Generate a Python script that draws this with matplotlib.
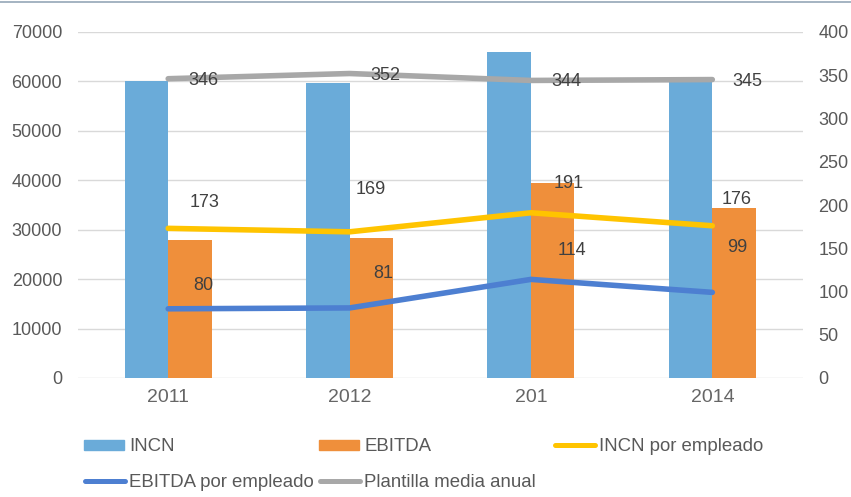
import matplotlib
matplotlib.use("Agg")
import matplotlib.pyplot as plt
import numpy as np
from matplotlib.lines import Line2D
from matplotlib.patches import Rectangle

plt.rcParams["font.family"] = ["Liberation Sans", "DejaVu Sans"]

# ---- data ----
years = ["2011", "2012", "201", "2014"]
incn = [60000, 59700, 65900, 60500]
ebitda = [27900, 28400, 39400, 34400]
incn_emp = [173, 169, 191, 176]
ebitda_emp = [80, 81, 114, 99]
plantilla = [346, 352, 344, 345]

# label offsets from each point, in pixels (dx right, dy up)
off_incn_emp = [(36, 26), (21, 42), (38, 29), (24, 26)]
off_ebitda_emp = [(35, 23), (34, 34), (41, 29), (25, 45)]
off_plantilla = [(35, -2), (36, -2), (35, -1), (35, -2)]

C_INCN = "#6AABD9"
C_EBITDA = "#EF8F3B"
C_YELLOW = "#FFC400"
C_BLUE = "#4D7FD1"
C_GRAY = "#A8A8A8"
GRID = "#D9D9D9"
TICK = "#595959"
LBL = "#404040"

W, H = 851, 497
fig = plt.figure(figsize=(W / 100, H / 100), dpi=100)
ax = fig.add_axes([77.5 / W, 1 - 378 / H, (803 - 77.5) / W, (378 - 32) / H])
ax2 = ax.twinx()

x = np.arange(len(years))
bw = 0.24
ax.bar(x - bw / 2, incn, bw, color=C_INCN, zorder=2)
ax.bar(x + bw / 2, ebitda, bw, color=C_EBITDA, zorder=2)

ax.set_xlim(-0.5, len(years) - 0.5)
ax.set_ylim(0, 70000)
ax.set_yticks(np.arange(0, 70001, 10000))
ax.yaxis.grid(True, color=GRID, lw=1, zorder=0)
ax.set_axisbelow(True)
ax.set_xticks(x)
ax.set_xticklabels(years)

ax2.set_ylim(0, 400)
ax2.set_yticks(np.arange(0, 401, 50))

for a in (ax, ax2):
    for s in a.spines.values():
        s.set_visible(False)
ax.tick_params(axis="y", length=0, pad=11, labelsize=13, labelcolor=TICK)
ax.tick_params(axis="x", length=0, pad=8, labelsize=14, labelcolor="#666666")
ax2.tick_params(axis="y", length=0, pad=11, labelsize=13, labelcolor=TICK)

lines = [
    (incn_emp, C_YELLOW, off_incn_emp),
    (ebitda_emp, C_BLUE, off_ebitda_emp),
    (plantilla, C_GRAY, off_plantilla),
]
for vals, col, offs in lines:
    ax2.plot(x, vals, color=col, lw=4, solid_capstyle="round",
             solid_joinstyle="round", zorder=3)
    for xi, v, (dx, dy) in zip(x, vals, offs):
        ax2.annotate(str(v), (xi, v), xytext=(dx * 0.72, dy * 0.72),
                     textcoords="offset points", ha="center", va="center",
                     fontsize=13, color=LBL, zorder=4)

# ---- legend drawn by hand (Excel style fixed columns) ----
leg_labels = ["INCN", "EBITDA", "INCN por empleado",
              "EBITDA por empleado", "Plantilla media anual"]
leg_colors = [C_INCN, C_EBITDA, C_YELLOW, C_BLUE, C_GRAY]
leg_kind = ["bar", "bar", "line", "line", "line"]
col_x = [84, 319, 554]
row_y = [445, 481]
for i, (lab, col, kind) in enumerate(zip(leg_labels, leg_colors, leg_kind)):
    cx = col_x[i % 3]
    cy = row_y[i // 3]
    if kind == "bar":
        fig.add_artist(Rectangle((cx / W, 1 - (cy + 5) / H), 40 / W, 10 / H,
                                 transform=fig.transFigure, color=col))
    else:
        fig.add_artist(Line2D([(cx + 1) / W, (cx + 41) / W], [1 - cy / H] * 2,
                              transform=fig.transFigure, color=col, lw=3.6,
                              solid_capstyle="round"))
    fig.text((cx + 45) / W, 1 - (cy + 1.5) / H, lab, ha="left", va="center",
             fontsize=13.4, color=TICK)

# thin border line along the top edge
fig.add_artist(Line2D([0, 1], [1 - 2 / H] * 2, transform=fig.transFigure,
                      color="#95A7B8", lw=1.2))

fig.savefig("out.png", dpi=100)
